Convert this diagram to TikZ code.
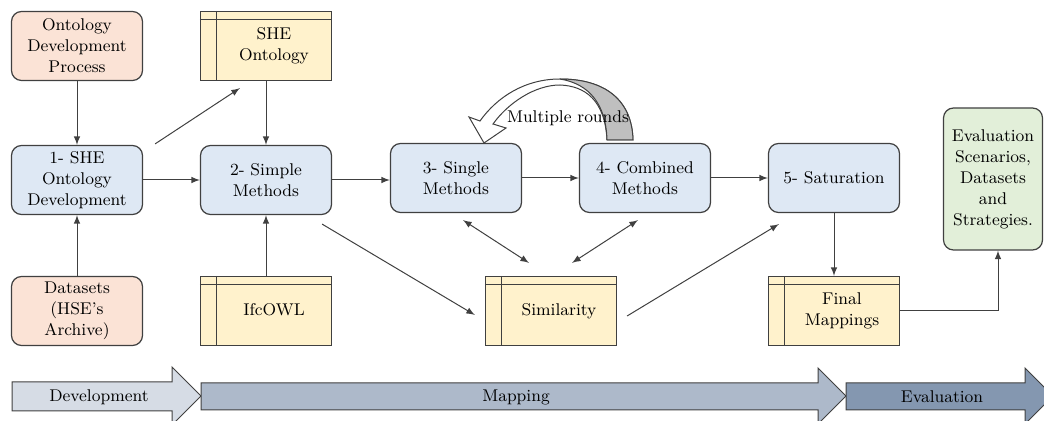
\documentclass[tikz,border=0pt]{standalone}
\usepackage{tikz}
\usetikzlibrary{calc}
\usepackage{xcolor}
\definecolor{srcfill}{HTML}{FBE3D6}
\definecolor{stepfill}{HTML}{DEE8F4}
\definecolor{storefill}{HTML}{FFF2CC}
\definecolor{evalfill}{HTML}{E2EFD9}
\definecolor{devfill}{HTML}{D6DCE5}
\definecolor{mapfill}{HTML}{ADB9CA}
\definecolor{evafill}{HTML}{8497B0}
\definecolor{edge}{HTML}{404040}
\newcommand{\shelf}[1]{\hspace*{8pt}\begin{tabular}{@{}c@{}}#1\end{tabular}}

\begin{document}
\begin{tikzpicture}[x=0.5pt,y=-0.5pt,>=latex,
  txt/.style={font=\fontsize{8.5}{10.5}\selectfont,text=black},
  box/.style={txt,draw=edge,line width=0.6pt,rounded corners=5pt,minimum width=65.5pt,minimum height=34.5pt,inner sep=1pt},
  srcbox/.style={box,fill=srcfill,align=center},
  stepbox/.style={box,fill=stepfill,align=center},
  evalbox/.style={box,fill=evalfill,align=center,minimum width=49.5pt,minimum height=71pt},
  store/.style={box,rounded corners=0pt,fill=storefill},
  phase/.style={draw=edge,line width=0.5pt},
  link/.style={->,draw=edge,line width=0.5pt}]
\useasboundingbox (0,0) rectangle (1044,421);
\node[srcbox] (odp) at (77,46) {Ontology\\Development\\Process};
\node[stepbox] (s1) at (77,180) {1- SHE\\Ontology\\Development};
\node[srcbox] (data) at (77,311) {Datasets\\(HSE's\\Archive)};
\node[store] (she) at (266,46) {\shelf{SHE\\Ontology}};
\node[stepbox] (s2) at (266,180) {2- Simple\\Methods};
\node[store] (ifc) at (266,311) {\shelf{IfcOWL}};
\node[stepbox] (s3) at (456,178) {3- Single\\Methods};
\node[stepbox] (s4) at (645,178) {4- Combined\\Methods};
\node[stepbox] (s5) at (834,178) {5- Saturation};
\node[store] (sim) at (551,311) {\shelf{Similarity}};
\node[store] (fin) at (834,311) {\shelf{Final\\Mappings}};
\node[evalbox] (ev) at (993,179) {Evaluation\\Scenarios,\\Datasets\\and\\Strategies.};
\foreach \n in {she,ifc,sim,fin}
 {\draw[phase] ($(\n.north west)+(17,0)$)--($(\n.south west)+(17,0)$);
  \draw[phase] ($(\n.north west)+(0,9)$)--($(\n.north east)+(0,9)$);
 };
\draw[link] (odp)--(s1);
\draw[link] (data)--(s1);
\draw[link] (s1)--(s2);
\draw[link] (she)--(s2);
\draw[link] (ifc)--(s2);
\draw[link] (s2.east)--(s3.west|-s2.east);
\draw[link] (s3)--(s4);
\draw[link] (s4)--(s5);
\draw[link] (s5)--(fin);
\draw[link] (fin.east) -| ($(ev.south)+(5,0)$);
\draw[link] ($(s1.north east)+(12,-1)$)--($(she.south west)+(40,7)$);
\draw[link] ($(s2.south east)+(-10,9)$)--($(sim.west)+(-10,4)$);
\draw[link,<->] ($(s3.south)+(7,7)$)--($(sim.north)+(-22,-13)$);
\draw[link,<->] ($(s4.south)+(-7,7)$)--($(sim.north)+(21,-13)$);
\draw[link] ($(sim.east)+(10,5)$)--($(s5.south west)+(11,11)$);
% multiple rounds
\draw[phase,fill=white] (633,140) .. controls (632,100) and (605,79) .. (560,79)
  .. controls (525,79) and (497,97) .. (480,121) -- (469,117) -- (484,143) -- (506,128) -- (493,124)
  .. controls (508,103) and (535,85) .. (560,85) .. controls (585,86) and (605,100) .. (607,140) -- cycle;
\draw[phase,fill=black!25] (633,140) .. controls (632,100) and (605,79) .. (560,79)
  .. controls (590,84) and (606,105) .. (607,140) -- cycle;
\node[txt] (rounds) at (568,118) {Multiple rounds};
% phases
\draw[phase,fill=devfill] (12,382)--(172,382)--(172,367)--(201,396)--(172,425)--(172,411)--(12,411)--cycle;
\draw[phase,fill=mapfill] (201,383)--(818,383)--(818,368)--(846,396)--(818,424)--(818,410)--(201,410)--cycle;
\draw[phase,fill=evafill] (846,383)--(1025,383)--(1025,368)--(1053,396)--(1025,424)--(1025,410)--(846,410)--cycle;
\node[txt] (dev) at (99,397) {Development};
\node[txt] (map) at (516,397) {Mapping};
\node[txt] (eva) at (942,397) {Evaluation};
\end{tikzpicture}
\end{document}
